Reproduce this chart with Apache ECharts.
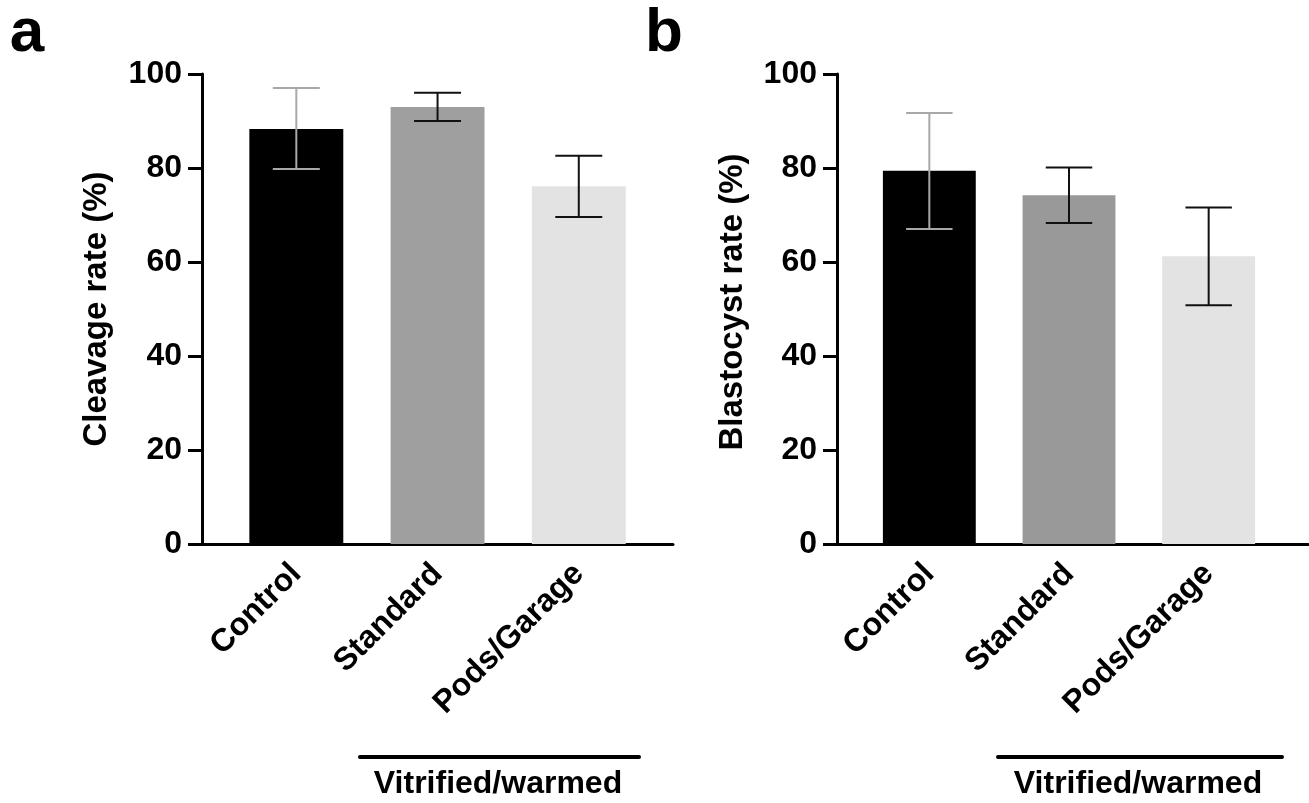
<!DOCTYPE html>
<html><head><meta charset="utf-8">
<script src="https://cdn.jsdelivr.net/npm/echarts@6/dist/echarts.min.js"></script>
<style>html,body{margin:0;padding:0;background:#fff}#c{width:1309px;height:803px}</style>
</head><body><div id="c"></div>
<script>
const categories = ['Control', 'Standard', 'Pods/Garage'];
const yMin = 0, yMax = 100, yStep = 20;
const cleavageMean = [88.3, 93.0, 76.1];
const cleavageLow  = [79.8, 90.0, 69.6];
const cleavageHigh = [97.0, 96.0, 82.6];
const blastMean = [79.4, 74.2, 61.2];
const blastLow  = [67.0, 68.3, 50.8];
const blastHigh = [91.7, 80.1, 71.6];
const panelLabels = ['a', 'b'];
const yTitles = ['Cleavage rate (%)', 'Blastocyst rate (%)'];
const groupLabel = 'Vitrified/warmed';

const barColorsA = ['#000000', '#9f9f9f', '#e3e3e3'];
const barColorsB = ['#000000', '#999999', '#e3e3e3'];
const errColors = ['#a8a8a8', '#111111', '#111111'];
const FONT = '"Liberation Sans", Arial, Helvetica, sans-serif';
const BAR_FRAC = 0.665;

const chart = echarts.init(document.getElementById('c'), null, {renderer: 'canvas'});

function frameX(gi) {
  return {gridIndex: gi, type: 'value', min: 0, max: 1,
    axisLine: {show: true, lineStyle: {color: '#000', width: 3}},
    axisTick: {show: false}, axisLabel: {show: false}, splitLine: {show: false}};
}
function frameY(gi) {
  return {gridIndex: gi, type: 'value', min: yMin, max: yMax, interval: yStep,
    axisLine: {show: true, lineStyle: {color: '#000', width: 3}},
    axisTick: {show: true, inside: false, length: 14, lineStyle: {color: '#000', width: 3}},
    axisLabel: {show: true, margin: 20, color: '#000', fontFamily: FONT, fontWeight: 'bold', fontSize: 32},
    splitLine: {show: false}};
}
function barX(gi) {
  return {gridIndex: gi, type: 'category', data: categories,
    axisLine: {show: false}, axisTick: {show: false},
    axisLabel: {show: true, rotate: 45, margin: 25, interval: 0, color: '#000', fontFamily: FONT, fontWeight: 'bold', fontSize: 32}};
}
function barY(gi) {
  return {gridIndex: gi, type: 'value', min: yMin, max: yMax, show: false};
}
function errRender(params, api) {
  const i = api.value(0);
  const lo = api.coord([i, api.value(1)]);
  const hi = api.coord([i, api.value(2)]);
  const band = api.size([1, 0])[0];
  const hw = band * BAR_FRAC / 4;
  const style = {stroke: errColors[i], lineWidth: 2, fill: null};
  return {type: 'group', children: [
    {type: 'line', shape: {x1: lo[0], y1: lo[1], x2: hi[0], y2: hi[1]}, style: style},
    {type: 'line', shape: {x1: hi[0] - hw, y1: hi[1], x2: hi[0] + hw, y2: hi[1]}, style: style},
    {type: 'line', shape: {x1: lo[0] - hw, y1: lo[1], x2: lo[0] + hw, y2: lo[1]}, style: style}
  ]};
}
function barSeries(ai, means, colors) {
  return {type: 'bar', xAxisIndex: ai, yAxisIndex: ai, barWidth: (BAR_FRAC * 100) + '%',
    data: means.map((v, i) => ({value: v, itemStyle: {color: colors[i]}})), z: 2, silent: true};
}
function errSeries(ai, lows, highs) {
  return {type: 'custom', xAxisIndex: ai, yAxisIndex: ai, renderItem: errRender, z: 5, silent: true,
    encode: {x: 0, y: [1, 2]},
    data: categories.map((c, i) => [i, lows[i], highs[i]])};
}
function txt(x, y, text, size, opts) {
  return Object.assign({type: 'text', x: x, y: y, silent: true,
    style: {text: text, fill: '#000', font: 'bold ' + size + 'px ' + FONT, textAlign: 'center', textVerticalAlign: 'middle'}}, opts || {});
}

const option = {
  backgroundColor: '#fff',
  animation: false,
  grid: [
    {left: 202, top: 74, width: 471, height: 470},
    {left: 225.7, top: 74, width: 423.7, height: 470},
    {left: 837, top: 74, width: 471, height: 470},
    {left: 859.5, top: 74, width: 419, height: 470}
  ],
  xAxis: [frameX(0), barX(1), frameX(2), barX(3)],
  yAxis: [frameY(0), barY(1), frameY(2), barY(3)],
  series: [
    barSeries(1, cleavageMean, barColorsA),
    errSeries(1, cleavageLow, cleavageHigh),
    barSeries(3, blastMean, barColorsB),
    errSeries(3, blastLow, blastHigh)
  ],
  graphic: [
    txt(27, 34, panelLabels[0], 62),
    txt(664, 34, panelLabels[1], 62),
    txt(97, 309, yTitles[0], 33, {rotation: Math.PI / 2}),
    txt(733, 302, yTitles[1], 33, {rotation: Math.PI / 2}),
    {type: 'line', silent: true, shape: {x1: 360, y1: 757, x2: 639, y2: 757}, style: {stroke: '#000', lineWidth: 4, lineCap: 'round'}},
    {type: 'line', silent: true, shape: {x1: 998, y1: 757, x2: 1282, y2: 757}, style: {stroke: '#000', lineWidth: 4, lineCap: 'round'}},
    txt(498, 784, groupLabel, 32),
    txt(1138, 784, groupLabel, 32)
  ]
};
chart.setOption(option);
</script></body></html>
